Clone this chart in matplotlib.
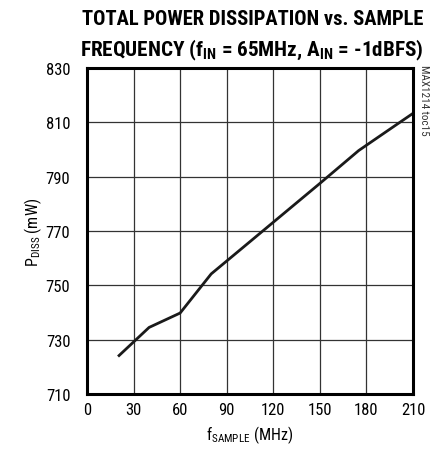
import matplotlib
matplotlib.use("Agg")
import matplotlib.pyplot as plt

# sample frequency (MHz) vs total power dissipation (mW)
f_sample = [20, 40, 60, 80, 100, 125, 150, 175, 200, 210]
p_diss = [723.8, 734.5, 739.8, 754.2, 763.7, 775.6, 787.5, 799.6, 809.4, 813.3]

x_ticks = [0, 30, 60, 90, 120, 150, 180, 210]
y_ticks = [710, 730, 750, 770, 790, 810, 830]

FONT = "Roboto Condensed"
plt.rcParams['font.family'] = [FONT, 'DejaVu Sans']
plt.rcParams['mathtext.fontset'] = 'custom'
plt.rcParams['mathtext.rm'] = FONT
plt.rcParams['mathtext.it'] = FONT
plt.rcParams['mathtext.bf'] = FONT + ':bold'

fig = plt.figure(figsize=(4.4, 4.56), dpi=100)
ax = fig.add_axes([0.1977, 0.1338, 0.7409, 0.7149])

ax.plot(f_sample, p_diss, color='#1a1a1a', lw=2.0, solid_capstyle='butt')

ax.set_xlim(0, 210)
ax.set_ylim(710, 830)
ax.set_xticks(x_ticks)
ax.set_yticks(y_ticks)
ax.grid(True, color='#333333', lw=0.9)
ax.tick_params(length=0, labelsize=12)
ax.tick_params(axis='y', pad=12)
ax.tick_params(axis='x', pad=6)
for s in ax.spines.values():
    s.set_linewidth(2.2)
    s.set_color('black')

ax.set_xlabel(r'f$_{\mathrm{SAMPLE}}$ (MHz)', fontsize=11.5, labelpad=4)
ax.set_ylabel(r'P$_{\mathrm{DISS}}$ (mW)', fontsize=11.5, labelpad=1)

fig.text(0.962, 0.978, 'TOTAL POWER DISSIPATION vs. SAMPLE',
         ha='right', va='top', fontsize=14.8, fontweight='bold')
fig.text(0.962, 0.917, r'FREQUENCY (f$\mathbf{_{IN}}$ = 65MHz, A$\mathbf{_{IN}}$ = -1dBFS)',
         ha='right', va='top', fontsize=15.2, fontweight='bold')

fig.text(0.963, 0.857, 'MAX1214 toc15', rotation=270, ha='center', va='top',
         fontsize=8, color='#333333')

fig.savefig('out.png', dpi=100)
